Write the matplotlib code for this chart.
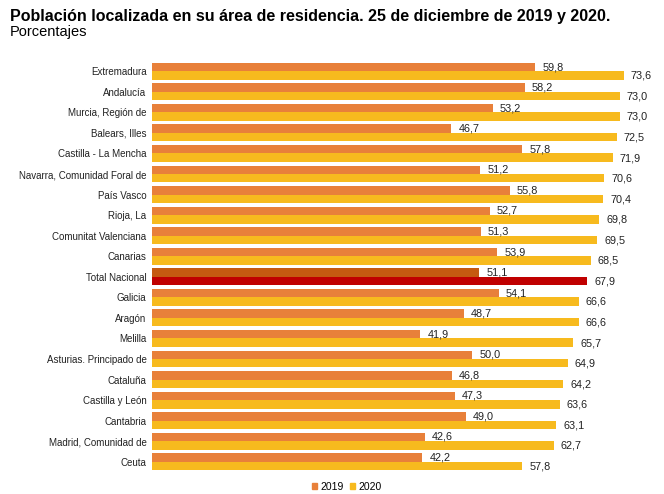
import matplotlib
matplotlib.use("Agg")
import matplotlib.pyplot as plt
from matplotlib.patches import Patch
import numpy as np

categories = ["Extremadura", "Andalucía", "Murcia, Región de", "Balears, Illes",
              "Castilla - La Mencha", "Navarra, Comunidad Foral de", "País Vasco",
              "Rioja, La", "Comunitat Valenciana", "Canarias", "Total Nacional",
              "Galicia", "Aragón", "Melilla", "Asturias. Principado de", "Cataluña",
              "Castilla y León", "Cantabria", "Madrid, Comunidad de", "Ceuta"]
v2019 = [59.8, 58.2, 53.2, 46.7, 57.8, 51.2, 55.8, 52.7, 51.3, 53.9, 51.1,
         54.1, 48.7, 41.9, 50.0, 46.8, 47.3, 49.0, 42.6, 42.2]
v2020 = [73.6, 73.0, 73.0, 72.5, 71.9, 70.6, 70.4, 69.8, 69.5, 68.5, 67.9,
         66.6, 66.6, 65.7, 64.9, 64.2, 63.6, 63.1, 62.7, 57.8]
series_labels = ["2019", "2020"]

C19 = "#E8803A"
C20 = "#F7BA1E"
C19T = "#C55A11"
C20T = "#C00000"

font = ["Liberation Sans", "DejaVu Sans"]
plt.rcParams['font.family'] = font

fig = plt.figure(figsize=(6.64, 4.94), dpi=100)
fig.patch.set_facecolor("white")
W, H = 664, 494
ax = fig.add_axes([152 / W, 1 - 472 / H, (655 - 152) / W, (472 - 61) / H])
ax.set_facecolor("white")

n = len(categories)
y = np.arange(n)
h = 0.41
c19 = [C19T if c == "Total Nacional" else C19 for c in categories]
c20 = [C20T if c == "Total Nacional" else C20 for c in categories]
ax.barh(y - h / 2, v2019, height=h, color=c19, linewidth=0)
ax.barh(y + h / 2, v2020, height=h, color=c20, linewidth=0)

for yi, a, b in zip(y, v2019, v2020):
    ax.text(a + 1.1, yi - h / 2, f"{a:.1f}".replace(".", ","), va="center",
            ha="left", fontsize=7.8, color="#222222")
    ax.text(b + 1.1, yi + h / 2 + 0.02, f"{b:.1f}".replace(".", ","), va="center",
            ha="left", fontsize=7.8, color="#222222")

ax.set_ylim(n - 0.5, -0.5)
ax.set_xlim(0, 78.5)
ax.set_yticks(y)
ax.set_yticklabels(categories, fontsize=7, color="#222222")
ax.tick_params(axis="y", length=0, pad=4)
ax.set_xticks([])
for s in ax.spines.values():
    s.set_visible(False)

fig.text(10 / W, 1 - 17 / H, "Población localizada en su área de residencia. 25 de diciembre de 2019 y 2020.",
         fontsize=11.5, fontweight="bold", va="center", ha="left",
         family=["Liberation Sans Narrow", "Liberation Sans", "DejaVu Sans"])
fig.text(10 / W, 1 - 32 / H, "Porcentajes", fontsize=10.5, va="center", ha="left",
         family=["Liberation Sans Narrow", "Liberation Sans", "DejaVu Sans"])

handles = [Patch(color=C19), Patch(color=C20)]
fig.legend(handles, series_labels, loc="center", bbox_to_anchor=(347 / W, 1 - 487 / H),
           ncol=2, frameon=False, fontsize=7.5, handlelength=0.5, handleheight=0.5,
           handletextpad=0.3, columnspacing=0.6)

fig.savefig("out.png", dpi=100)
